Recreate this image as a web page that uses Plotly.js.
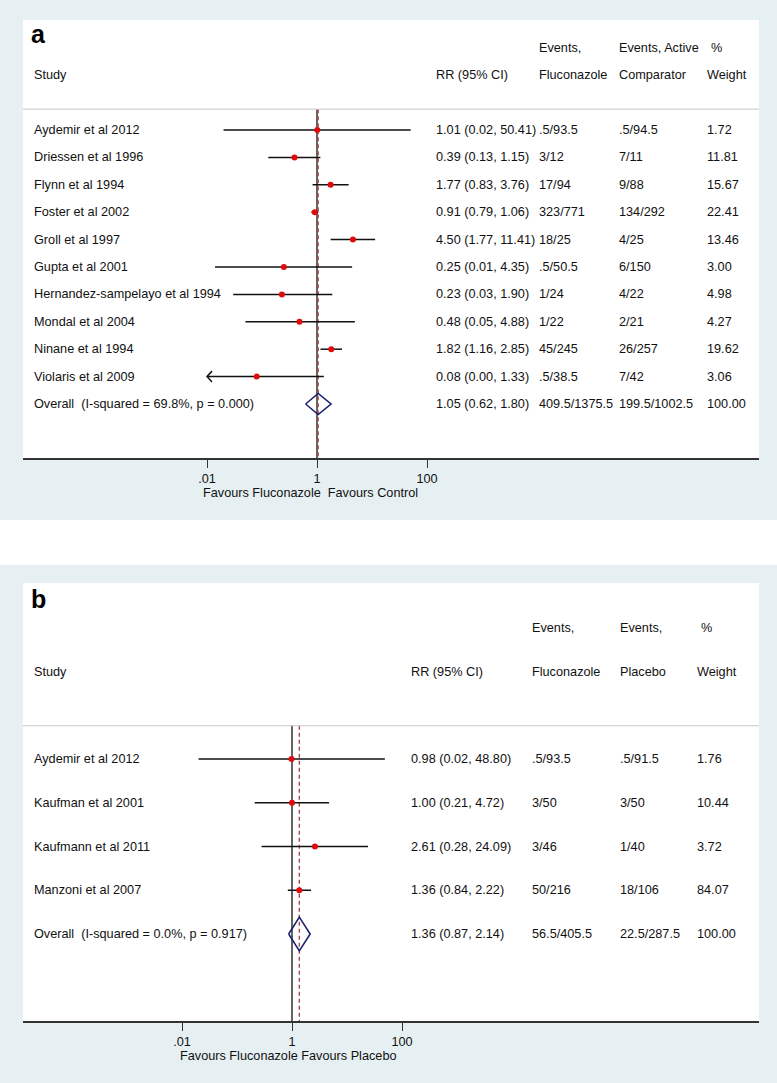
<!DOCTYPE html>
<html><head><meta charset="utf-8">
<script src="https://cdn.plot.ly/plotly-3.0.1.min.js"></script>
<style>html,body{margin:0;padding:0;background:#fff}</style>
</head><body><div id="chart" style="width:777px;height:1083px"></div>
<script>
// ---------------- DATA ----------------
// Panel a: fluconazole vs active comparator
const studiesA = ["Aydemir et al 2012", "Driessen et al 1996", "Flynn et al 1994", "Foster et al 2002", "Groll et al 1997", "Gupta et al 2001", "Hernandez-sampelayo et al 1994", "Mondal et al 2004", "Ninane et al 1994", "Violaris et al 2009"];
const rrA = [1.01, 0.39, 1.77, 0.91, 4.50, 0.25, 0.23, 0.48, 1.82, 0.08];
const loA = [0.02, 0.13, 0.83, 0.79, 1.77, 0.014, 0.03, 0.05, 1.16, 0.004];
const hiA = [50.41, 1.15, 3.76, 1.06, 11.41, 4.35, 1.90, 4.88, 2.85, 1.33];
const evFlucA = [".5/93.5", "3/12", "17/94", "323/771", "18/25", ".5/50.5", "1/24", "1/22", "45/245", ".5/38.5"];
const evCompA = [".5/94.5", "7/11", "9/88", "134/292", "4/25", "6/150", "4/22", "2/21", "26/257", "7/42"];
const weightA = ["1.72", "11.81", "15.67", "22.41", "13.46", "3.00", "4.98", "4.27", "19.62", "3.06"];
const overallA = {label: "Overall\u00a0 (I-squared = 69.8%, p = 0.000)", rr: 1.05, lo: 0.62, hi: 1.80, ev1: "409.5/1375.5", ev2: "199.5/1002.5", w: "100.00"};
const headersA = {top: ["Events,", "Events, Active", "%"], bottom: ["Fluconazole", "Comparator", "Weight"]};
const favoursA = "Favours Fluconazole\u00a0 Favours Control";

// Panel b: fluconazole vs placebo
const studiesB = ["Aydemir et al 2012", "Kaufman et al 2001", "Kaufmann et al 2011", "Manzoni et al 2007"];
const rrB = [0.98, 1.00, 2.61, 1.36];
const loB = [0.02, 0.21, 0.28, 0.84];
const hiB = [48.80, 4.72, 24.09, 2.22];
const evFlucB = [".5/93.5", "3/50", "3/46", "50/216"];
const evPlacB = [".5/91.5", "3/50", "1/40", "18/106"];
const weightB = ["1.76", "10.44", "3.72", "84.07"];
const overallB = {label: "Overall\u00a0 (I-squared = 0.0%, p = 0.917)", rr: 1.36, lo: 0.87, hi: 2.14, ev1: "56.5/405.5", ev2: "22.5/287.5", w: "100.00"};
const headersB = {top: ["Events,", "Events,", "%"], bottom: ["Fluconazole", "Placebo", "Weight"]};
const favoursB = "Favours Fluconazole Favours Placebo";

const tickVals = [0.01, 1, 100];
const tickText = [".01", "1", "100"];

// ---------------- LAYOUT CONSTANTS ----------------
const W = 777, H = 1083;
const FONT = "Liberation Sans, Arial, Helvetica, sans-serif";
const FS = 12.7;
const BG = "#e6eff1";
const CLIP = 0.01;
const PER_DEC = 55;
const px = v => v / W;
const py = v => 1 - v / H;

const panels = [
  {key: "", letter: "a", left: 23, right: 759, top: 20, bottom: 458, one: 317, row0: 130, step: 27.4,
   cols: {study: 32, rr: 434, ev1: 537, ev2: 617, w: 705, pct: 709},
   studies: studiesA, rr: rrA, lo: loA, hi: hiA, ev1: evFlucA, ev2: evCompA, w: weightA,
   overall: overallA, headers: headersA, favours: favoursA, favShift: -7, letterY: 34},
  {key: "2", letter: "b", left: 23, right: 759, top: 583, bottom: 1021, one: 292, row0: 759, step: 43.75,
   cols: {study: 32, rr: 409, ev1: 530, ev2: 618, w: 695, pct: 699},
   studies: studiesB, rr: rrB, lo: loB, hi: hiB, ev1: evFlucB, ev2: evPlacB, w: weightB,
   overall: overallB, headers: headersB, favours: favoursB, favShift: -4, letterY: 599}
];

const traces = [];
const annotations = [];
const shapes = [
  {type: "rect", xref: "paper", yref: "paper", x0: 0, x1: 1, y0: py(565), y1: py(520),
   fillcolor: "#ffffff", line: {width: 0}, layer: "below"}
];
const layout = {
  width: W, height: H,
  margin: {l: 0, r: 0, t: 0, b: 0},
  paper_bgcolor: BG, plot_bgcolor: "#ffffff",
  showlegend: false,
  font: {family: FONT, size: FS, color: "#111111"},
  annotations: annotations, shapes: shapes
};

function note(x, y, text, xref, yref, opts) {
  annotations.push(Object.assign({x: x, y: y, text: text, xref: xref, yref: yref,
    showarrow: false, xanchor: "left", yanchor: "middle",
    font: {family: FONT, size: FS, color: "#111111"}}, opts || {}));
}

panels.forEach(p => {
  const xa = "x" + p.key, ya = "y" + p.key;
  const n = p.studies.length;
  const yBottom = (p.bottom - p.row0) / p.step;
  const yTop = (p.top - p.row0) / p.step;
  const lineRow = -0.76;

  layout["xaxis" + p.key] = {
    type: "log", domain: [px(p.left), px(p.right)],
    range: [(p.left - p.one) / PER_DEC, (p.right - p.one) / PER_DEC],
    anchor: ya, showgrid: false, zeroline: false,
    showline: true, linecolor: "#333333", linewidth: 1.5,
    ticks: "outside", ticklen: 8, tickwidth: 1, tickcolor: "#333333",
    tickvals: tickVals, ticktext: tickText,
    tickfont: {family: FONT, size: FS, color: "#111111"}, fixedrange: true
  };
  layout["yaxis" + p.key] = {
    domain: [py(p.bottom), py(p.top)], range: [yBottom, yTop],
    anchor: xa, visible: false, showgrid: false, zeroline: false, fixedrange: true
  };

  // grey separator under header
  shapes.push({type: "line", xref: "paper", yref: ya, x0: px(p.left), x1: px(p.right),
    y0: lineRow, y1: lineRow, line: {color: "#c8c8c8", width: 1}});

  // null line at 1 and overall dashed line
  traces.push({type: "scatter", mode: "lines", xaxis: xa, yaxis: ya, x: [1, 1], y: [lineRow, yBottom],
    line: {color: "#111111", width: 1.3}, hoverinfo: "skip"});
  traces.push({type: "scatter", mode: "lines", xaxis: xa, yaxis: ya, x: [p.overall.rr, p.overall.rr], y: [lineRow, yBottom],
    line: {color: "#a84a4a", width: 1.4, dash: "4px,3px"}, hoverinfo: "skip"});

  // CI lines with arrow when clipped
  const cx = [], cy = [], ax = [], ay = [];
  for (let i = 0; i < n; i++) {
    const lo = Math.max(p.lo[i], CLIP);
    cx.push(lo, p.hi[i], null); cy.push(i, i, null);
    if (p.lo[i] < CLIP) {
      const arm = CLIP * Math.pow(10, 5 / PER_DEC);
      ax.push(arm, CLIP, arm, null); ay.push(i - 0.2, i, i + 0.2, null);
    }
  }
  traces.push({type: "scatter", mode: "lines", xaxis: xa, yaxis: ya, x: cx, y: cy,
    line: {color: "#111111", width: 1.5}, hoverinfo: "skip"});
  if (ax.length) traces.push({type: "scatter", mode: "lines", xaxis: xa, yaxis: ya, x: ax, y: ay,
    line: {color: "#111111", width: 1.5}, hoverinfo: "skip"});

  // point estimates
  traces.push({type: "scatter", mode: "markers", xaxis: xa, yaxis: ya, x: p.rr, y: p.studies.map((_, i) => i),
    marker: {color: "#e00a0a", size: 6, line: {width: 0}}, hoverinfo: "skip"});

  // overall diamond
  const o = p.overall, r = n, h = 0.385;
  traces.push({type: "scatter", mode: "lines", xaxis: xa, yaxis: ya,
    x: [o.lo, o.rr, o.hi, o.rr, o.lo], y: [r, r - h, r, r + h, r],
    line: {color: "#1b2070", width: 1.6}, hoverinfo: "skip"});

  // row texts
  const c = p.cols;
  for (let i = 0; i < n; i++) {
    note(px(c.study), i, p.studies[i], "paper", ya);
    note(px(c.rr), i, `${p.rr[i].toFixed(2)} (${p.lo[i].toFixed(2)}, ${p.hi[i].toFixed(2)})`, "paper", ya);
    note(px(c.ev1), i, p.ev1[i], "paper", ya);
    note(px(c.ev2), i, p.ev2[i], "paper", ya);
    note(px(c.w), i, p.w[i], "paper", ya);
  }
  note(px(c.study), r, o.label, "paper", ya);
  note(px(c.rr), r, `${o.rr.toFixed(2)} (${o.lo.toFixed(2)}, ${o.hi.toFixed(2)})`, "paper", ya);
  note(px(c.ev1), r, o.ev1, "paper", ya);
  note(px(c.ev2), r, o.ev2, "paper", ya);
  note(px(c.w), r, o.w, "paper", ya);

  // headers
  note(px(c.study), -2, "Study", "paper", ya);
  note(px(c.rr), -2, "RR (95% CI)", "paper", ya);
  note(px(c.ev1), -3, p.headers.top[0], "paper", ya);
  note(px(c.ev2), -3, p.headers.top[1], "paper", ya);
  note(px(c.pct), -3, p.headers.top[2], "paper", ya);
  note(px(c.ev1), -2, p.headers.bottom[0], "paper", ya);
  note(px(c.ev2), -2, p.headers.bottom[1], "paper", ya);
  note(px(c.w), -2, p.headers.bottom[2], "paper", ya);

  // panel letter
  note(px(29), py(p.letterY), p.letter, "paper", "paper",
    {font: {family: FONT, size: 25, color: "#000000", weight: "bold"}});

  // favours label
  note(0, py(p.bottom + 35), p.favours, xa, "paper", {xanchor: "center", xshift: p.favShift});
});

Plotly.newPlot("chart", traces, layout, {staticPlot: true, displayModeBar: false});
</script>
</body></html>
